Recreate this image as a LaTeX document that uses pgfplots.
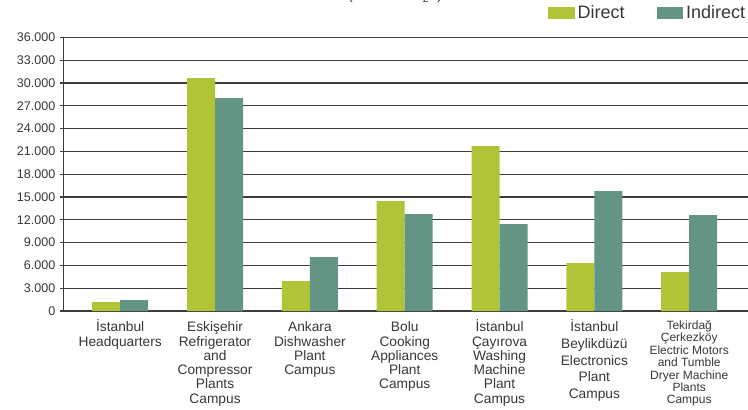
\documentclass[border=0pt]{standalone}
\usepackage{fontspec}
\setmainfont{Liberation Sans}
\usepackage{pgfplots}
\pgfplotsset{compat=1.18}
\definecolor{directgreen}{RGB}{177,196,56}
\definecolor{indirectteal}{RGB}{99,148,132}
\definecolor{gridgray}{RGB}{60,60,60}
\definecolor{labelgray}{RGB}{55,55,55}
\newcommand\sm{\fontsize{9}{9.5}\selectfont}
\newcommand\fl{\rule{0pt}{9.5pt}}

\begin{document}
\begin{tikzpicture}
\begin{axis}[
    name=ax,
    scale only axis,
    width=513.5pt,
    height=205.3pt,
    ybar=0pt,
    bar width=21pt,
    xmin=-0.6, xmax=6.62,
    ymin=0, ymax=36000,
    ytick={0,3000,...,36000},
    scaled y ticks=false,
    yticklabel style={font=\fontsize{9.4}{11}\selectfont, text=labelgray,
        /pgf/number format/fixed, /pgf/number format/precision=0,
        /pgf/number format/1000 sep={.}, /pgf/number format/assume math mode=true},
    xtick=data,
    xticklabels={
        {\fl İstanbul\\Headquarters},
        {\fl Eskişehir\\Refrigerator\\and\\Compressor\\Plants\\Campus},
        {\fl Ankara\\Dishwasher\\Plant\\Campus},
        {\fl Bolu\\Cooking\\Appliances\\Plant\\Campus},
        {\fl İstanbul\\Çayırova\\Washing\\Machine\\Plant\\Campus},
        {\fl İstanbul\\[1.8pt]Beylikdüzü\\[1.8pt]Electronics\\[1.8pt]Plant\\[1.8pt]Campus},
        {\rule{0pt}{7.8pt}\sm Tekirdağ\\[-1.4pt]\sm Çerkezköy\\[-1.4pt]\sm Electric Motors\\[-1.4pt]\sm and Tumble\\[-1.4pt]\sm Dryer Machine\\[-1.4pt]\sm Plants\\[-1.4pt]\sm Campus}
    },
    xticklabel style={align=center, font=\fontsize{10.3}{10.7}\selectfont, text=labelgray, anchor=north, yshift=0pt},
    axis x line*=bottom,
    axis y line*=left,
    axis line style={gridgray, line width=0.9pt},
    x axis line style={-},
    y axis line style={-},
    ymajorgrids,
    grid style={gridgray, line width=0.9pt},
    xtick style={draw=none},
    ytick style={gridgray, line width=0.9pt},
    tick align=outside,
    major tick length=2.5pt,
    legend columns=2,
    legend style={at={(1,1)}, anchor=east, yshift=18pt, draw=none, fill=none,
        inner sep=0pt, font=\fontsize{13.5}{15}\selectfont, text=labelgray,
        /tikz/every even column/.append style={column sep=22pt}},
    legend image code/.code={\fill[#1] (0pt,-4.4pt) rectangle (20pt,4.4pt);},
]
\addplot[fill=directgreen, draw=none] coordinates {
    (0,1180) (1,30650) (2,3950) (3,14470) (4,21700) (5,6310) (6,5130)
};
\addplot[fill=indirectteal, draw=none] coordinates {
    (0,1450) (1,28000) (2,7100) (3,12760) (4,11440) (5,15780) (6,12630)
};
\legend{Direct, Indirect}
\end{axis}
\node[anchor=base east, font=\fontsize{11}{13}\selectfont, text=labelgray]
    at ([xshift=287.8pt, yshift=28pt]ax.north west) {Greenhouse Gas Emissions (tonnes CO\textsubscript{2}e)};
\pgfresetboundingbox
\path[use as bounding box] ([xshift=-47.5pt, yshift=-73.5pt]ax.south west) rectangle ([yshift=28pt]ax.north east);
\end{tikzpicture}
\end{document}
